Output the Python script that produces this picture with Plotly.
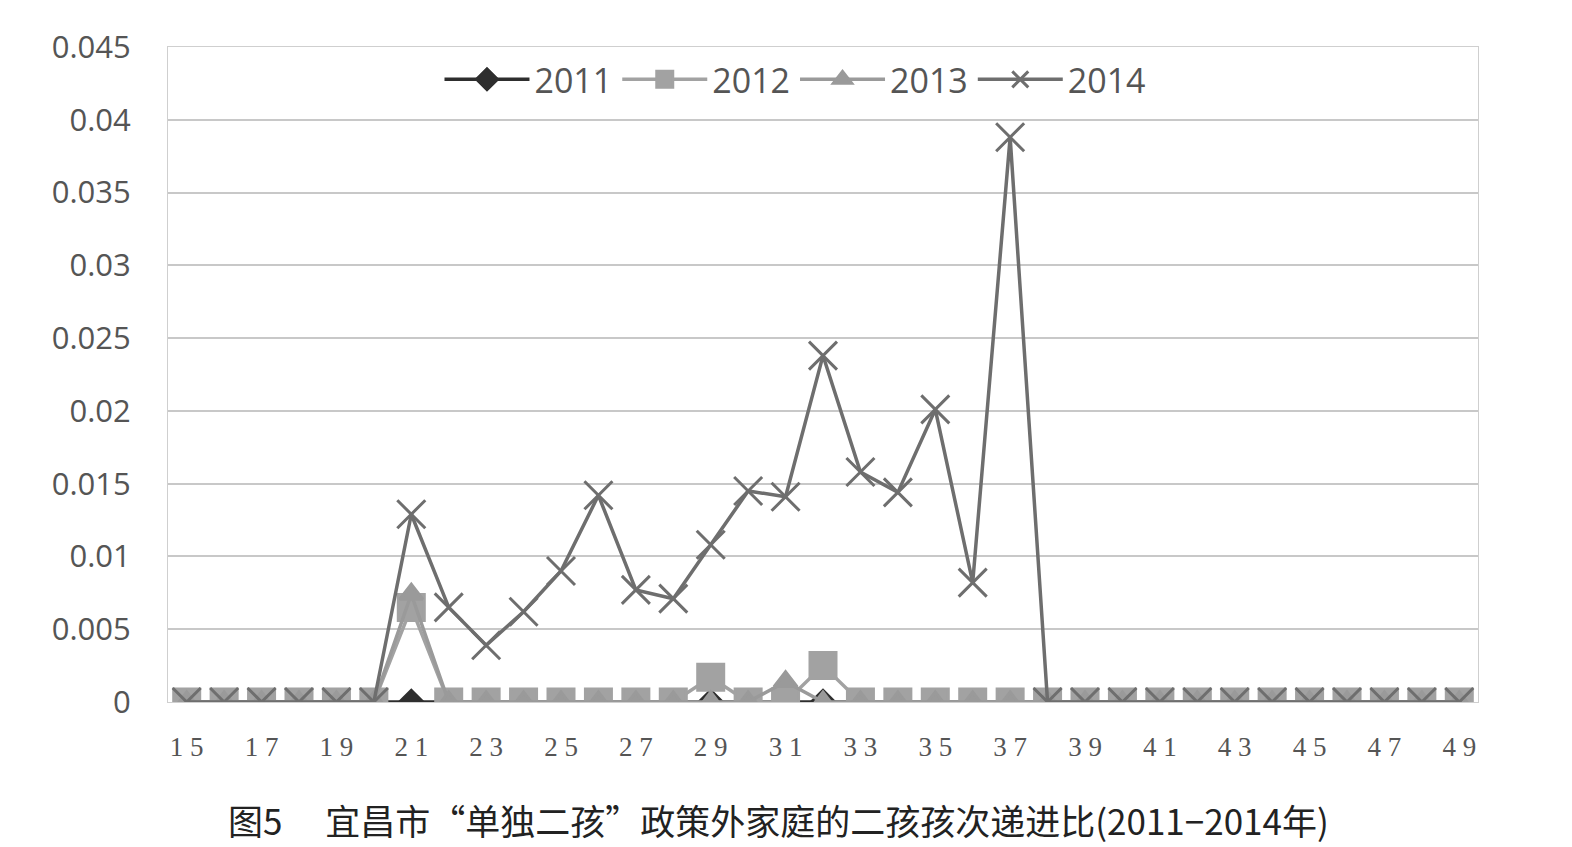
import plotly.graph_objects as go

ages = list(range(15, 50))

v2011 = [0.0] * 35
v2012 = [0, 0, 0, 0, 0, 0, 0.0065, 0, 0, 0, 0, 0, 0, 0, 0.0017, 0, 0, 0.0025, 0, 0, 0, 0, 0,
         0, 0, 0, 0, 0, 0, 0, 0, 0, 0, 0, 0]
v2013 = [0, 0, 0, 0, 0, 0, 0.0074, 0, 0, 0, 0, 0, 0, 0, 0, 0, 0.0014, 0, 0, 0, 0, 0, 0,
         0, 0, 0, 0, 0, 0, 0, 0, 0, 0, 0, 0]
v2014 = [0, 0, 0, 0, 0, 0, 0.0129, 0.0065, 0.0039, 0.0062, 0.009, 0.0142, 0.0077, 0.0071,
         0.0108, 0.0145, 0.0141, 0.0238, 0.0158, 0.0144, 0.0201, 0.0082, 0.0388,
         0, 0, 0, 0, 0, 0, 0, 0, 0, 0, 0, 0]

series = ["2011", "2012", "2013", "2014"]
x_ticks = list(range(15, 50, 2))
y_ticks = [0, 0.005, 0.01, 0.015, 0.02, 0.025, 0.03, 0.035, 0.04, 0.045]
y_labels = ["0", "0.005", "0.01", "0.015", "0.02", "0.025", "0.03", "0.035", "0.04", "0.045"]
caption = "图5　 宜昌市“单独二孩”政策外家庭的二孩孩次递进比(2011−2014年)"

styles = {
    "2011": dict(color="#2e2e2e", symbol="diamond", size=18),
    "2012": dict(color="#a2a2a2", symbol="square", size=26),
    "2013": dict(color="#9a9a9a", symbol="triangle-up", size=20),
    "2014": dict(color="#6e6e6e", symbol="x-thin-open", size=28),
}
data = {"2011": v2011, "2012": v2012, "2013": v2013, "2014": v2014}

fig = go.Figure()
for s in series:
    st = styles[s]
    fig.add_trace(go.Scatter(
        x=ages, y=data[s], name=s, mode="lines+markers",
        line=dict(color=st["color"], width=3.5),
        marker=dict(symbol=st["symbol"], size=st["size"], color=st["color"],
                    line=dict(color=st["color"], width=3)),
    ))

fig.update_layout(
    width=1564, height=839,
    margin=dict(l=160, r=94, t=39, b=145),
    paper_bgcolor="white", plot_bgcolor="white",
    font=dict(family="Open Sans, Noto Sans, sans-serif", color="#555555"),
    showlegend=True,
    legend=dict(orientation="h", x=0.479, xanchor="center", y=0.95, yanchor="middle",
                font=dict(size=34, color="#555555"), bgcolor="rgba(255,255,255,0)",
                itemwidth=85),
    xaxis=dict(range=[14.5, 49.5], tickmode="array", tickvals=x_ticks,
               ticktext=[" ".join(str(t)) for t in x_ticks],
               tickfont=dict(size=27, family="Liberation Serif, serif", color="#555555"),
               ticklabelstandoff=21,
               showgrid=False, zeroline=False, showline=True, linecolor="#cfcfcf",
               linewidth=1, mirror=True, ticks=""),
    yaxis=dict(range=[0, 0.045], tickmode="array", tickvals=y_ticks, ticktext=y_labels,
               tickfont=dict(size=31, color="#555555"), ticklabelstandoff=30,
               showgrid=True, gridcolor="#c8c8c8", gridwidth=1.5, zeroline=False,
               showline=True, linecolor="#cfcfcf", linewidth=1, mirror=True, ticks=""),
    annotations=[dict(text=caption, x=0.466, xref="paper", y=-0.18, yref="paper",
                      xanchor="center", yanchor="middle", showarrow=False,
                      font=dict(size=35, family="Noto Sans CJK SC", color="#222222"))],
)

fig.write_html("out.html")
